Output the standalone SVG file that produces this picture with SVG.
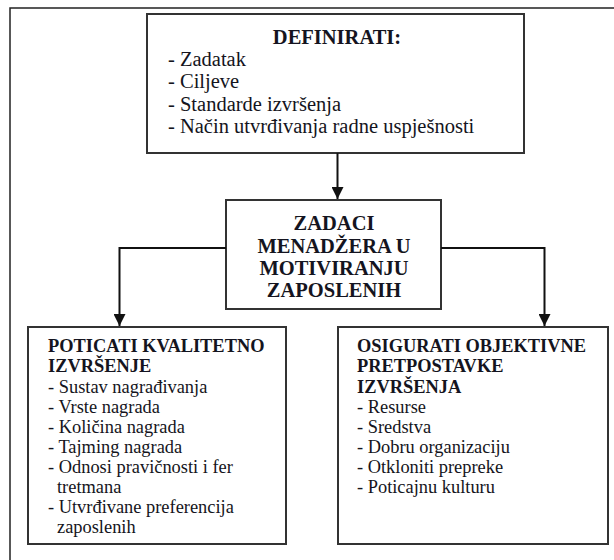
<svg xmlns="http://www.w3.org/2000/svg" width="614" height="560" viewBox="0 0 614 560">
<defs>
<marker id="ah" viewBox="0 0 10 10" refX="10" refY="5" markerWidth="6" markerHeight="6" orient="auto" markerUnits="strokeWidth">
<path d="M0,0 L10,5 L0,10 z" fill="#111"/>
</marker>
</defs>
<style>
.box{fill:#fff;stroke:#333;stroke-width:2}
.t{font-family:'Liberation Serif','Tinos','Times New Roman','DejaVu Serif',serif;fill:#141420}
.b{font-weight:bold}
.s20{font-size:20.5px}
.s18{font-size:18.4px}
.c{text-anchor:middle}
.con{fill:none;stroke:#111;stroke-width:2}
</style>
<rect width="614" height="560" fill="#fff"/>
<path d="M10,560 L10,8 L614,8" fill="none" stroke="#222" stroke-width="1.5"/>
<g id="definirati">
<rect class="box" x="147" y="14" width="377" height="139"/>
<text class="t b s20 c" x="337" y="44">DEFINIRATI:</text>
<text class="t s20" x="168" y="66">- Zadatak</text>
<text class="t s20" x="168" y="88">- Ciljeve</text>
<text class="t s20" x="168" y="111">- Standarde izvršenja</text>
<text class="t s20" x="168" y="133">- Način utvrđivanja radne uspješnosti</text>
</g>
<g id="zadaci">
<rect class="box" x="226" y="200" width="215" height="109"/>
<text class="t b s20 c" x="334" y="230">ZADACI</text>
<text class="t b s20 c" x="334" y="253">MENADŽERA U</text>
<text class="t b s20 c" x="334" y="275">MOTIVIRANJU</text>
<text class="t b s20 c" x="334" y="297">ZAPOSLENIH</text>
</g>
<g id="poticati">
<rect class="box" x="28" y="327" width="258" height="217"/>
<text class="t b s18" x="48" y="352">POTICATI KVALITETNO</text>
<text class="t b s18" x="48" y="372">IZVRŠENJE</text>
<text class="t s18" x="48" y="393">- Sustav nagrađivanja</text>
<text class="t s18" x="48" y="413">- Vrste nagrada</text>
<text class="t s18" x="48" y="433">- Količina nagrada</text>
<text class="t s18" x="48" y="453">- Tajming nagrada</text>
<text class="t s18" x="48" y="473">- Odnosi pravičnosti i fer</text>
<text class="t s18" x="57" y="493">tretmana</text>
<text class="t s18" x="48" y="513">- Utvrđivane preferencija</text>
<text class="t s18" x="57" y="533">zaposlenih</text>
</g>
<g id="osigurati">
<rect class="box" x="338" y="327" width="270" height="217"/>
<text class="t b s18" x="357" y="352">OSIGURATI OBJEKTIVNE</text>
<text class="t b s18" x="357" y="372">PRETPOSTAVKE</text>
<text class="t b s18" x="357" y="393">IZVRŠENJA</text>
<text class="t s18" x="357" y="413">- Resurse</text>
<text class="t s18" x="357" y="433">- Sredstva</text>
<text class="t s18" x="357" y="453">- Dobru organizaciju</text>
<text class="t s18" x="357" y="473">- Otkloniti prepreke</text>
<text class="t s18" x="357" y="493">- Poticajnu kulturu</text>
</g>
<g id="connectors">
<path class="con" d="M337.5,153 L337.5,199" marker-end="url(#ah)"/>
<path class="con" d="M226,248 L119.5,248 L119.5,326" marker-end="url(#ah)"/>
<path class="con" d="M441,248 L544.5,248 L544.5,326" marker-end="url(#ah)"/>
</g>
</svg>
